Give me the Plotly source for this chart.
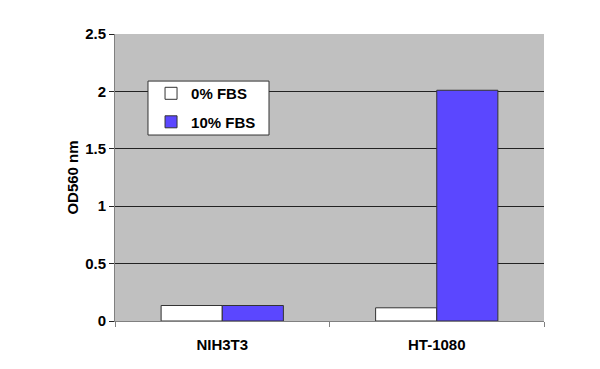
import plotly.graph_objects as go

categories = ["NIH3T3", "HT-1080"]
fbs0 = [0.135, 0.115]
fbs10 = [0.135, 2.01]
series_names = ["0% FBS", "10% FBS"]
y_ticks = [0, 0.5, 1, 1.5, 2, 2.5]
y_tick_labels = ["0", "0.5", "1", "1.5", "2", "2.5"]

FAM = "Arial, Liberation Sans, sans-serif"

fig = go.Figure()
fig.add_trace(go.Bar(x=categories, y=fbs0, name=series_names[0], legendgroup="a",
                     marker=dict(color="white", line=dict(color="#333333", width=1))))
fig.add_trace(go.Bar(x=categories, y=fbs10, name=series_names[1], legendgroup="b",
                     marker=dict(color="#5b47ff", line=dict(color="#333333", width=1))))

# legend frame
fig.add_shape(type="rect", xref="paper", yref="paper", x0=0.0769, x1=0.359, y0=0.648, y1=0.836,
              fillcolor="white", line=dict(color="#333333", width=1), layer="above")

fig.update_layout(
    width=600, height=369,
    margin=dict(l=115, r=56, t=34, b=48),
    paper_bgcolor="white", plot_bgcolor="#c0c0c0",
    barmode="group", bargap=0.43, bargroupgap=0,
    font=dict(family=FAM, size=15, color="black"),
    showlegend=True,
    legend=dict(x=0.084, y=0.85, xanchor="left", yanchor="top",
                bgcolor="rgba(0,0,0,0)", borderwidth=0,
                font=dict(family=FAM, size=15, color="black", weight="bold"),
                itemwidth=30, traceorder="grouped", tracegroupgap=6),
    xaxis=dict(type="category", showgrid=False, showline=True, linecolor="#808080",
               ticks="outside", tickson="boundaries", ticklen=5, tickcolor="#808080",
               ticklabelstandoff=10,
               tickfont=dict(family=FAM, size=15, color="black", weight="bold")),
    yaxis=dict(range=[0, 2.5], tickvals=y_ticks, ticktext=y_tick_labels,
               showgrid=True, gridcolor="#222222", gridwidth=1,
               showline=True, linecolor="#808080", ticks="outside", ticklen=5, tickcolor="#222222",
               tickfont=dict(family=FAM, size=15, color="black", weight="bold"),
               title=dict(text="<b>OD560 nm</b>", standoff=2,
                          font=dict(family=FAM, size=15, color="black")),
               zeroline=False),
)
fig.write_html("out.html")
